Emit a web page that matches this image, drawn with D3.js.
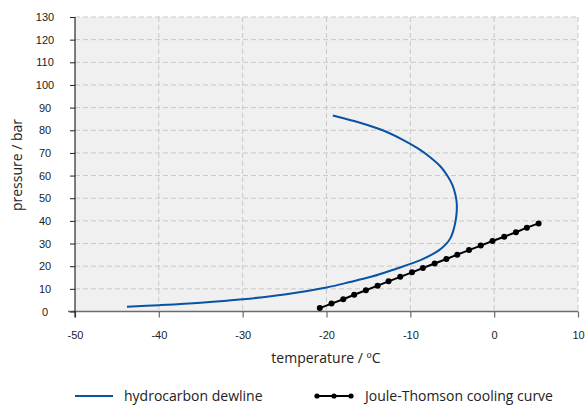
<!DOCTYPE html>
<html>
<head>
<meta charset="utf-8">
<script src="https://cdn.jsdelivr.net/npm/d3@7"></script>
<style>
  body { margin: 0; background: #fff; }
  svg { font-family: "Open Sans", "Noto Sans", sans-serif; }
</style>
</head>
<body>
<svg id="chart" width="586" height="406"></svg>
<script>
// hydrocarbon dewline (temperature degC, pressure bar)
const dewT = [-43.8, -40, -35, -30, -25, -20, -17.2, -14.8, -13.2, -11.6, -10.0, -8.6, -7.5, -6.6, -5.8, -5.2, -4.85, -4.6, -4.47, -4.47, -4.65, -5.0, -5.6, -6.4, -7.6, -9.1, -11.0, -13.3, -16.0, -19.25];
const dewP = [2.1, 2.8, 3.9, 5.4, 7.5, 10.6, 13.0, 15.2, 17.0, 19.0, 21.0, 23.0, 25.0, 27.0, 29.5, 32.5, 36.0, 40.0, 44.0, 48.0, 52.0, 56.0, 60.0, 64.0, 68.0, 72.0, 76.0, 80.0, 83.3, 86.5];

// Joule-Thomson cooling curve
const jtT = [-20.8, -19.4, -18.0, -16.7, -15.3, -13.9, -12.6, -11.2, -9.8, -8.5, -7.1, -5.7, -4.4, -3.0, -1.6, -0.2, 1.2, 2.6, 3.9, 5.3];
const jtP = [1.5, 3.5, 5.4, 7.4, 9.4, 11.4, 13.3, 15.3, 17.3, 19.2, 21.2, 23.2, 25.1, 27.1, 29.1, 31.1, 33.0, 35.0, 37.0, 38.9];

const xTicks = [-50, -40, -30, -20, -10, 0, 10];
const yTicks = [0, 10, 20, 30, 40, 50, 60, 70, 80, 90, 100, 110, 120, 130];

const svg = d3.select('#chart');
const pLeft = 75, pRight = 578, pTop = 17, pBottom = 311.5;

const x = d3.scaleLinear().domain([-50, 10]).range([pLeft, pRight]);
const y = d3.scaleLinear().domain([0, 130]).range([pBottom, pTop]);

// plot background
svg.append('rect')
  .attr('x', pLeft).attr('y', pTop)
  .attr('width', pRight - pLeft).attr('height', pBottom - pTop)
  .attr('fill', '#f0f0f0');

// grid
svg.append('g').selectAll('line.hg')
  .data(yTicks.slice(1))
  .enter().append('line')
  .attr('x1', pLeft).attr('x2', pRight)
  .attr('y1', (d) => y(d)).attr('y2', (d) => y(d))
  .attr('stroke', '#c8c8c8').attr('stroke-dasharray', '5,3');

svg.append('g').selectAll('line.vg')
  .data(xTicks.slice(1))
  .enter().append('line')
  .attr('y1', pTop).attr('y2', pBottom)
  .attr('x1', (d) => x(d)).attr('x2', (d) => x(d))
  .attr('stroke', '#c8c8c8').attr('stroke-dasharray', '5,3');

// x axis
const xAxis = svg.append('g')
  .attr('transform', 'translate(0,' + pBottom + ')')
  .call(d3.axisBottom(x).tickValues(xTicks).tickFormat((d) => String(d))
    .tickSize(6).tickPadding(14).tickSizeOuter(0));
xAxis.select('.domain').attr('stroke', '#6b6b6b').attr('stroke-width', 1.5)
  .attr('d', 'M' + (pLeft - 7) + ',0H' + pRight);
xAxis.selectAll('.tick line').attr('stroke', '#6b6b6b').attr('stroke-width', 1.2);
xAxis.selectAll('.tick text').attr('font-size', 11).attr('fill', '#222').attr('font-family', 'inherit');

// y axis
const yAxis = svg.append('g')
  .attr('transform', 'translate(' + pLeft + ',0)')
  .call(d3.axisLeft(y).tickValues(yTicks).tickSize(5).tickSizeOuter(0));
yAxis.select('.domain').attr('stroke', '#000').attr('stroke-width', 1)
  .attr('d', 'M0,' + pTop + 'V' + (pBottom + 6));
yAxis.selectAll('.tick line').attr('stroke', '#222');
yAxis.selectAll('.tick text')
  .attr('font-size', 11).attr('fill', '#222').attr('font-family', 'inherit')
  .attr('text-anchor', 'middle').attr('x', -30);

// axis titles
svg.append('text')
  .attr('x', 326).attr('y', 363)
  .attr('text-anchor', 'middle').attr('font-size', 14).attr('fill', '#222')
  .text('temperature / ºC');

svg.append('text')
  .attr('transform', 'translate(22,165) rotate(-90)')
  .attr('text-anchor', 'middle').attr('font-size', 14).attr('fill', '#222')
  .text('pressure / bar');

// dewline
const dew = dewT.map((t, i) => [t, dewP[i]]);
svg.append('path')
  .datum(dew)
  .attr('fill', 'none').attr('stroke', '#0a52a3').attr('stroke-width', 2)
  .attr('d', d3.line().x((d) => x(d[0])).y((d) => y(d[1])).curve(d3.curveCatmullRom.alpha(0.5)));

// Joule-Thomson curve
const jt = jtT.map((t, i) => [t, jtP[i]]);
svg.append('path')
  .datum(jt)
  .attr('fill', 'none').attr('stroke', '#000').attr('stroke-width', 2)
  .attr('d', d3.line().x((d) => x(d[0])).y((d) => y(d[1])));
svg.append('g').selectAll('circle')
  .data(jt)
  .enter().append('circle')
  .attr('cx', (d) => x(d[0])).attr('cy', (d) => y(d[1]))
  .attr('r', 3).attr('fill', '#000');

// legend
const lg = svg.append('g');
lg.append('line').attr('x1', 75).attr('x2', 113).attr('y1', 396).attr('y2', 396)
  .attr('stroke', '#0a52a3').attr('stroke-width', 2);
lg.append('text').attr('x', 124).attr('y', 401).attr('font-size', 14).attr('fill', '#222')
  .text('hydrocarbon dewline');
lg.append('line').attr('x1', 317).attr('x2', 351).attr('y1', 396).attr('y2', 396)
  .attr('stroke', '#000').attr('stroke-width', 2);
lg.selectAll('circle').data([317, 334, 351]).enter().append('circle')
  .attr('cx', (d) => d).attr('cy', 396).attr('r', 2.6).attr('fill', '#000');
lg.append('text').attr('x', 365).attr('y', 401).attr('font-size', 14).attr('fill', '#222')
  .text('Joule-Thomson cooling curve');
</script>
</body>
</html>
